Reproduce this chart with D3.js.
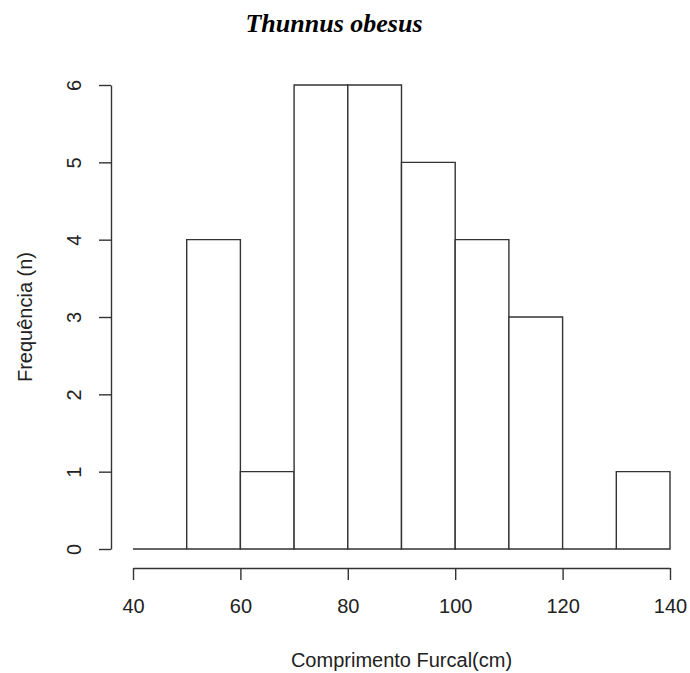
<!DOCTYPE html>
<html>
<head>
<meta charset="utf-8">
<script src="https://cdn.jsdelivr.net/npm/d3@7"></script>
<style>
  body { margin: 0; background: #fff; }
  svg { display: block; }
</style>
</head>
<body>
<script>
// histogram bins (cm) and counts
var binStarts = [40, 50, 60, 70, 80, 90, 100, 110, 120, 130];
var binWidth = 10;
var counts = [0, 4, 1, 6, 6, 5, 4, 3, 0, 1];
var xTicks = [40, 60, 80, 100, 120, 140];
var yTicks = [0, 1, 2, 3, 4, 5, 6];

var width = 690,
	height = 673,
	lineColor = "#333",
	textColor = "#222";

var svg = d3.select("body").append("svg")
	.attr("width", width)
	.attr("height", height);

// 40 -> 133px, 140 -> 670px ; 0 -> 549px, 6 -> 85px
var xScale = d3.scaleLinear().domain([40, 140]).range([133, 670]);
var yScale = d3.scaleLinear().domain([0, 6]).range([549, 85]);

// bars: each bin is drawn as an open path, so empty bins still show their bottom edge
svg.append("g")
	.selectAll("path")
	.data(binStarts)
	.enter().append("path")
	.attr("d", function(d, i) {
		var x0 = xScale(d), x1 = xScale(d + binWidth),
			y0 = yScale(0), y1 = yScale(counts[i]);
		return "M" + x0 + "," + y0 + "L" + x0 + "," + y1 + "L" + x1 + "," + y1 +
			"L" + x1 + "," + y0 + "Z";
	})
	.style("fill", "#fff")
	.style("stroke", lineColor)
	.style("stroke-width", 1.4);

// y axis
var yAxis = d3.axisLeft(yScale)
	.tickValues(yTicks)
	.tickSizeInner(12)
	.tickSizeOuter(0)
	.tickFormat(d3.format("d"));

var gy = svg.append("g")
	.attr("transform", "translate(111,0)")
	.call(yAxis);
gy.select(".domain").attr("stroke", lineColor).attr("stroke-width", 1.4);
gy.selectAll(".tick line").attr("stroke", lineColor).attr("stroke-width", 1.4);
gy.selectAll(".tick text")
	.attr("transform", "rotate(-90)")
	.attr("x", 0)
	.attr("y", -30)
	.attr("dy", null)
	.style("text-anchor", "middle")
	.style("font-family", "'Liberation Sans', Arial, sans-serif")
	.style("font-size", "20px")
	.style("fill", textColor);

// x axis
var xAxis = d3.axisBottom(xScale)
	.tickValues(xTicks)
	.tickSizeInner(12)
	.tickSizeOuter(0);

var gx = svg.append("g")
	.attr("transform", "translate(0,568)")
	.call(xAxis);
gx.select(".domain").attr("stroke", lineColor).attr("stroke-width", 1.4);
gx.selectAll(".tick line").attr("stroke", lineColor).attr("stroke-width", 1.4);
gx.selectAll(".tick text")
	.attr("y", 45)
	.attr("dy", null)
	.style("font-family", "'Liberation Sans', Arial, sans-serif")
	.style("font-size", "20px")
	.style("fill", textColor);

// titles
svg.append("text")
	.attr("x", 334)
	.attr("y", 32)
	.attr("text-anchor", "middle")
	.style("font-family", "'Liberation Serif', 'Times New Roman', serif")
	.style("font-weight", "bold")
	.style("font-style", "italic")
	.style("font-size", "26px")
	.style("fill", "#000")
	.text("Thunnus obesus");

svg.append("text")
	.attr("x", xScale(90))
	.attr("y", 667)
	.attr("text-anchor", "middle")
	.style("font-family", "'Liberation Sans', Arial, sans-serif")
	.style("font-size", "20px")
	.style("fill", textColor)
	.text("Comprimento Furcal(cm)");

svg.append("text")
	.attr("transform", "translate(32," + yScale(3) + ") rotate(-90)")
	.attr("text-anchor", "middle")
	.style("font-family", "'Liberation Sans', Arial, sans-serif")
	.style("font-size", "20px")
	.style("fill", textColor)
	.text("Frequência (n)");
</script>
</body>
</html>
